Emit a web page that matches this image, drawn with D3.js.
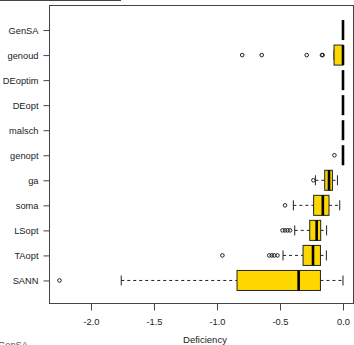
<!DOCTYPE html>
<html lang="en">
<head>
<meta charset="UTF-8"/>
<title>Deficiency boxplots</title>
<script src="https://d3js.org/d3.v7.min.js"></script>
<style>
  body { margin: 0; background: #fff; }
  text { font-family: "Liberation Sans", Arial, sans-serif; }
</style>
</head>
<body>
<script>
// methods, bottom (position 1) to top (position 11)
var methods = ["SANN", "TAopt", "LSopt", "soma", "ga", "genopt", "malsch", "DEopt", "DEoptim", "genoud", "GenSA"];

// five-number summaries
var lowWhisker = [-1.76, -0.476, -0.383, -0.394, -0.219, 0, 0, 0, 0, -0.071, 0];
var q1         = [-0.841, -0.317, -0.264, -0.233, -0.145, 0, 0, 0, 0, -0.071, 0];
var medians    = [-0.352, -0.238, -0.209, -0.16, -0.111, 0, 0, 0, 0, 0, 0];
var q3         = [-0.179, -0.179, -0.177, -0.111, -0.084, 0, 0, 0, 0, 0, 0];
var highWhisker= [0, -0.132, -0.13, -0.026, -0.044, 0, 0, 0, 0, 0, 0];
var outliers   = [
  [-2.25],
  [-0.957, -0.585, -0.565, -0.545, -0.52],
  [-0.48, -0.46, -0.44, -0.42],
  [-0.46],
  [-0.235],
  [-0.068],
  [], [], [],
  [-0.80, -0.645, -0.288, -0.167, -0.162],
  []
];
var xTicks = [-2.0, -1.5, -1.0, -0.5, 0.0];

var w = 354, h = 345;
var plotL = 49, plotR = 353, plotT = 5, plotB = 303;

var svg = d3.select("body").append("svg")
  .attr("width", w)
  .attr("height", h);

var xScale = d3.scaleLinear()
  .domain([-2.3333, 0.0794])
  .range([plotL, plotR]);

var yScale = d3.scaleLinear()
  .domain([0.1, 12.0])
  .range([plotB, plotT]);

var boxH = 0.8 * (yScale(0) - yScale(1));

// stray line at the very top left
svg.append("line")
  .attr("x1", 0).attr("x2", 121)
  .attr("y1", 0.5).attr("y2", 0.5)
  .attr("stroke", "#444");

var rows = methods.map(function(m, i) {
  return { name: m, pos: i + 1, lo: lowWhisker[i], q1: q1[i], med: medians[i],
           q3: q3[i], hi: highWhisker[i], out: outliers[i] };
});

var g = svg.selectAll("g.box")
  .data(rows)
  .enter()
  .append("g")
  .attr("class", "box");

// whiskers (dashed)
g.append("line")
  .attr("x1", function(d) { return xScale(d.lo); })
  .attr("x2", function(d) { return xScale(d.q1); })
  .attr("y1", function(d) { return yScale(d.pos); })
  .attr("y2", function(d) { return yScale(d.pos); })
  .attr("stroke", "#222").attr("stroke-dasharray", "3,3");
g.append("line")
  .attr("x1", function(d) { return xScale(d.q3); })
  .attr("x2", function(d) { return xScale(d.hi); })
  .attr("y1", function(d) { return yScale(d.pos); })
  .attr("y2", function(d) { return yScale(d.pos); })
  .attr("stroke", "#222").attr("stroke-dasharray", "3,3");

// caps
["lo", "hi"].forEach(function(k) {
  g.append("line")
    .attr("x1", function(d) { return xScale(d[k]); })
    .attr("x2", function(d) { return xScale(d[k]); })
    .attr("y1", function(d) { return yScale(d.pos) - boxH / 4; })
    .attr("y2", function(d) { return yScale(d.pos) + boxH / 4; })
    .attr("stroke", "#222");
});

// box
g.append("rect")
  .attr("x", function(d) { return xScale(d.q1); })
  .attr("width", function(d) { return xScale(d.q3) - xScale(d.q1); })
  .attr("y", function(d) { return yScale(d.pos) - boxH / 2; })
  .attr("height", boxH)
  .attr("fill", "#FFD700")
  .attr("stroke", "#222");

// median
g.append("line")
  .attr("x1", function(d) { return xScale(d.med); })
  .attr("x2", function(d) { return xScale(d.med); })
  .attr("y1", function(d) { return yScale(d.pos) - boxH / 2; })
  .attr("y2", function(d) { return yScale(d.pos) + boxH / 2; })
  .attr("stroke", "#000").attr("stroke-width", 2.6);

// outliers
g.selectAll("circle")
  .data(function(d) { return d.out.map(function(v) { return { v: v, pos: d.pos }; }); })
  .enter()
  .append("circle")
  .attr("cx", function(d) { return xScale(d.v); })
  .attr("cy", function(d) { return yScale(d.pos); })
  .attr("r", 1.8)
  .attr("fill", "none")
  .attr("stroke", "#222");

// frame
svg.append("rect")
  .attr("x", plotL + 0.5).attr("y", plotT + 0.5)
  .attr("width", plotR - plotL).attr("height", plotB - plotT)
  .attr("fill", "none").attr("stroke", "#444");

// axes
var xAxis = d3.axisBottom(xScale)
  .tickValues(xTicks)
  .tickSize(7)
  .tickPadding(8)
  .tickFormat(function(d) { return d.toFixed(1); });

var yAxis = d3.axisLeft(yScale)
  .tickValues(d3.range(1, methods.length + 1))
  .tickSize(6)
  .tickPadding(5)
  .tickFormat(function(d) { return methods[d - 1]; });

var gx = svg.append("g")
  .attr("transform", "translate(0," + (plotB + 0.5) + ")")
  .call(xAxis);
var gy = svg.append("g")
  .attr("transform", "translate(" + (plotL + 0.5) + ",0)")
  .call(yAxis);

[gx, gy].forEach(function(a) {
  a.select(".domain").remove();
  a.selectAll("line").attr("stroke", "#444");
  a.selectAll("text")
    .attr("fill", "#222")
    .style("font-size", "9.3px")
    .style("font-family", "'Liberation Sans', Arial, sans-serif");
});

// axis title
svg.append("text")
  .attr("x", 205).attr("y", 343)
  .attr("text-anchor", "middle")
  .attr("fill", "#222")
  .style("font-size", "9.5px")
  .text("Deficiency");

// clipped label at the bottom left
svg.append("text")
  .attr("x", -2).attr("y", 347.5)
  .attr("fill", "#555")
  .style("font-size", "9.3px")
  .text("GenSA");
</script>
</body>
</html>
